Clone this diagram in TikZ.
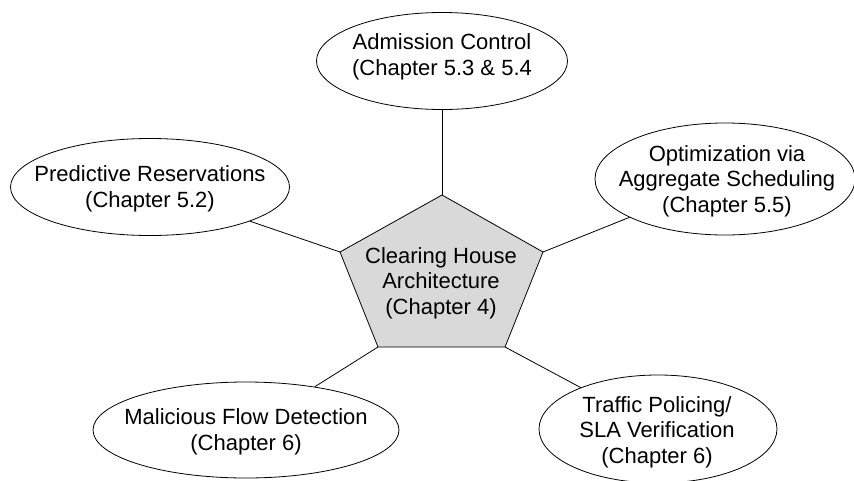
\documentclass[tikz,border=0pt]{standalone}
\usepackage{fontspec}
\setmainfont{Liberation Sans}
\usetikzlibrary{shapes.geometric}
\begin{document}
\begin{tikzpicture}[x=1pt,y=-1pt,
  topic/.style={draw, ellipse, line width=0.8pt, inner sep=0pt},
  link/.style={line width=0.8pt},
  lbl/.style={align=center, inner sep=0pt, font=\fontsize{22}{25.5}\selectfont}]
\useasboundingbox (0,0) rectangle (854,480);
\clip (0,0) rectangle (854,480);
% pentagon vertices
\coordinate (pt) at (442,195);
\coordinate (pl) at (340,252);
\coordinate (pr) at (543,252);
\coordinate (pbl) at (378,347);
\coordinate (pbr) at (505,347);
\filldraw[fill=gray!30, line width=0.8pt] (pt) -- (pr) -- (pbr) -- (pbl) -- (pl) -- cycle;
\node[lbl] (core) at (441,283) {Clearing House\\Architecture\\(Chapter 4)};
% ellipses
\node[topic, minimum width=251, minimum height=97] (adm) at (442,61) {};
\node[lbl] (admt) at (442,57) {Admission Control\\(Chapter 5.3 \& 5.4};
\node[topic, minimum width=279, minimum height=97] (pred) at (150,187) {};
\node[lbl] (predt) at (150,189) {Predictive Reservations\\(Chapter 5.2)};
\node[topic, minimum width=260, minimum height=112] (opt) at (725,179) {};
\node[lbl] (optt) at (727,181) {Optimization via\\Aggregate Scheduling\\(Chapter 5.5)};
\node[topic, minimum width=306, minimum height=96] (mal) at (246,430) {};
\node[lbl] (malt) at (246,432) {Malicious Flow Detection\\(Chapter 6)};
\node[topic, minimum width=238, minimum height=108] (tra) at (658,429) {};
\node[lbl] (trat) at (657,432) {Traffic Policing/\\SLA Verification\\(Chapter 6)};
% connectors
\draw[link] (pt) -- (adm);
\draw[link] (pl) -- (pred);
\draw[link] (pr) -- (opt);
\draw[link] (pbl) -- (mal);
\draw[link] (pbr) -- (tra);
\end{tikzpicture}
\end{document}
